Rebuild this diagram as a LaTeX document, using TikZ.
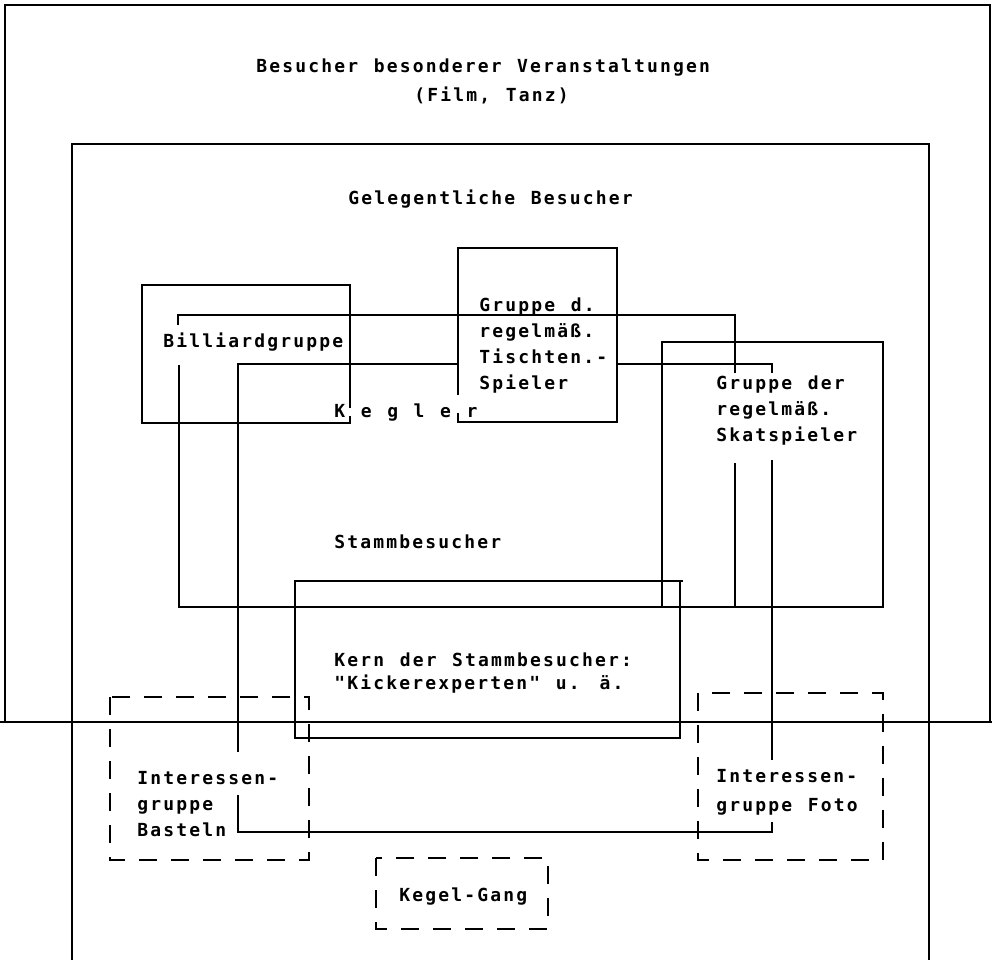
\documentclass[tikz,border=0pt]{standalone}
\usepackage{fontspec}
\newfontfamily\typefont{DejaVu Sans Mono}[LetterSpace=12,WordSpace=1.2]

\begin{document}
\begin{tikzpicture}[x=1pt,y=-1pt,line width=2.8pt,
  loose/.style={dash pattern=on 18pt off 14pt},
  txt/.style={font=\typefont\bfseries\fontsize{18}{26}\selectfont,
    inner sep=0pt,anchor=west,align=left}]

    \useasboundingbox (0,0) rectangle (992,960);

    % outer groups
    \draw[line width=2.4pt] (5,722) -- (5,5) -- (990,5) -- (990,722);
    \draw[line width=2.4pt] (0,722) -- (992,722);
    \draw (72,960) -- (72,144) -- (929,144) -- (929,960);

    \node[txt] (besondere) at (255,68) {Besucher besonderer Veranstaltungen};
    \node[txt] (film) at (413,95) {(Film, Tanz)};
    \node[txt] (gelegentlich) at (347,199) {Gelegentliche Besucher};

    % groups inside
    \draw (350,408) -- (350,285) -- (142,285) -- (142,423) -- (350,423) -- (350,416);
    \draw (458,395) -- (458,248) -- (617,248) -- (617,422) -- (458,422) -- (458,413);
    \draw (178,325) -- (178,315) -- (735,315) -- (735,373);
    \draw (735,463) -- (735,607) -- (179,607) -- (179,365);
    \draw (238,752) -- (238,364) -- (458,364);
    \draw (617,364) -- (772,364) -- (772,373);
    \draw (772,460) -- (772,760);
    \draw (772,822) -- (772,832) -- (238,832) -- (238,795);
    \draw (662,342) rectangle (883,607);
    \draw (683,581) -- (295,581) -- (295,738) -- (680,738) -- (680,581);

    \node[txt] (billiard) at (162,342) {Billiardgruppe};
    \node[txt] (tischtennis) at (478,346) {Gruppe d.\\regelmäß.\\Tischten.-\\Spieler};
    \node[txt] (kegler) at (333,413) {K e g l e r};
    \node[txt] (skat) at (715,411) {Gruppe der\\regelmäß.\\Skatspieler};
    \node[txt] (stamm) at (333,542) {Stammbesucher};
    \node[txt] (kern) at (333,673) {Kern der Stammbesucher:\\[-3pt]"Kickerexperten" u. ä.};

    % loose groups
    \draw[loose] (110,697) rectangle (309,860);
    \draw[loose] (698,693) rectangle (883,860);
    \draw[loose] (376,858) rectangle (548,929);

    \node[txt] (basteln) at (136,804) {Interessen-\\gruppe\\Basteln};
    \node[txt] (foto) at (715,792) {Interessen-\\[3pt]gruppe Foto};
    \node[txt] (kegelgang) at (398,897) {Kegel-Gang};
\end{tikzpicture}
\end{document}
